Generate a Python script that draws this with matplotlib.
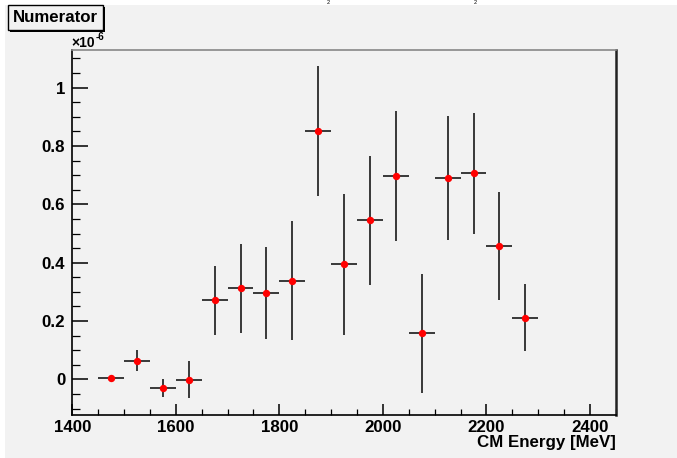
import matplotlib
matplotlib.use('Agg')
import matplotlib.pyplot as plt
from matplotlib.patches import Rectangle
from matplotlib.ticker import MultipleLocator, FormatStrFormatter

plt.rcParams['font.family'] = ['Liberation Sans', 'DejaVu Sans']

# bin centres [MeV], half width, values (x1e-6) and errors
energy = [1475, 1525, 1575, 1625, 1675, 1725, 1775, 1825, 1875,
          1925, 1975, 2025, 2075, 2125, 2175, 2225, 2275]
half_width = 25
numerator = [0.004, 0.064, -0.029, -0.001, 0.271, 0.312, 0.295, 0.339, 0.850,
             0.394, 0.545, 0.697, 0.158, 0.690, 0.706, 0.458, 0.212]
errors = [0.008, 0.036, 0.030, 0.063, 0.117, 0.152, 0.158, 0.203, 0.223,
          0.241, 0.221, 0.223, 0.205, 0.212, 0.208, 0.185, 0.116]

W, H = 677, 458
bg = '#f2f2f2'
fs = 12.2

fig = plt.figure(figsize=(W / 100, H / 100), dpi=100, facecolor='white')

# grey canvas (white strip left and top like the screenshot)
fig.patches.append(Rectangle((5 / W, 0), 1 - 5 / W, 1 - 5 / H, transform=fig.transFigure,
                             facecolor=bg, edgecolor='none', zorder=-10))

ax = fig.add_axes([72.3 / W, 43.5 / H, 544 / W, 364.8 / H])
ax.set_facecolor(bg)

ax.errorbar(energy, numerator, xerr=half_width, yerr=errors, fmt='o',
            color='red', markersize=5.3, markeredgewidth=0,
            ecolor='#2a2a2a', elinewidth=1.3, capsize=0, zorder=3)

ax.set_xlim(1400, 2450.8)
ax.set_ylim(-0.1199, 1.1295)

ax.xaxis.set_major_locator(MultipleLocator(200))
ax.xaxis.set_minor_locator(MultipleLocator(50))
ax.yaxis.set_major_locator(MultipleLocator(0.2))
ax.yaxis.set_minor_locator(MultipleLocator(0.05))
ax.yaxis.set_major_formatter(FormatStrFormatter('%g'))

ax.tick_params(axis='both', which='both', direction='in', labelsize=fs)
ax.tick_params(axis='x', which='major', length=8, width=1.1, pad=4)
ax.tick_params(axis='x', which='minor', length=4, width=0.9)
ax.tick_params(axis='y', which='major', length=11.5, width=1.1, pad=5)
ax.tick_params(axis='y', which='minor', length=5.8, width=0.9)
for lab in ax.get_xticklabels() + ax.get_yticklabels():
    lab.set_fontweight('bold')

ax.spines['left'].set_color('black')
ax.spines['bottom'].set_color('black')
ax.spines['left'].set_linewidth(1.2)
ax.spines['bottom'].set_linewidth(1.2)
ax.spines['top'].set_color('#888888')
ax.spines['top'].set_linewidth(1.2)
ax.spines['right'].set_color('#222222')
ax.spines['right'].set_linewidth(1.8)

ax.set_xlabel('CM Energy [MeV]', loc='right', fontsize=fs, fontweight='bold', labelpad=0)

# exponent label  x10^-6
fig.text(71 / W, 1 - 43 / H, '\u00d710', fontsize=10, fontweight='bold',
         ha='left', va='center')
fig.text(95.5 / W, 1 - 37.5 / H, '-6', fontsize=7, fontweight='bold',
         ha='left', va='center')

# "Numerator" stats-box style label with shadow
fig.patches.append(Rectangle((10 / W, 1 - 32 / H), 95 / W, 25 / H, transform=fig.transFigure,
                             facecolor='black', edgecolor='none', zorder=1))
fig.patches.append(Rectangle((8 / W, 1 - 30 / H), 95 / W, 25 / H, transform=fig.transFigure,
                             facecolor=bg, edgecolor='black', linewidth=1, zorder=2))
fig.text(55.5 / W, 1 - 18 / H, 'Numerator', fontsize=fs, fontweight='bold',
         ha='center', va='center', zorder=3)

# remnants of the cut-off title subscripts
fig.text(328 / W, 1 - 0.5 / H, '2', fontsize=4, ha='center', va='top')
fig.text(475 / W, 1 - 0.5 / H, '2', fontsize=4, ha='center', va='top')

fig.savefig('out.png', dpi=100, facecolor=fig.get_facecolor())
